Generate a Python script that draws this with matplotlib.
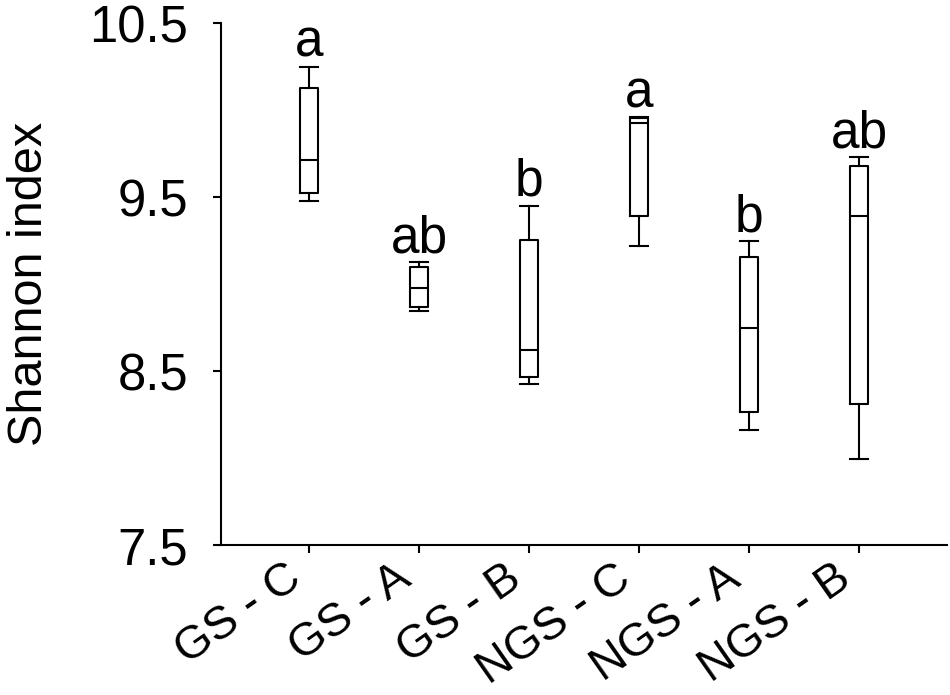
import matplotlib
matplotlib.use("Agg")
import matplotlib.pyplot as plt
from matplotlib.transforms import ScaledTranslation

plt.rcParams['font.family'] = ['Liberation Sans', 'DejaVu Sans']

# values
groups = ['GS - C', 'GS - A', 'GS - B', 'NGS - C', 'NGS - A', 'NGS - B']
whis_hi = [10.25, 9.125, 9.45, 9.96, 9.247, 9.728]
q3 = [10.128, 9.10, 9.253, 9.955, 9.157, 9.680]
medians = [9.711, 8.975, 8.621, 9.923, 8.749, 9.391]
q1 = [9.525, 8.866, 8.464, 9.393, 8.266, 8.310]
whis_lo = [9.479, 8.847, 8.424, 9.220, 8.161, 7.993]
letters = ['a', 'ab', 'b', 'a', 'b', 'ab']

stats = [dict(label=g, med=m, q1=a, q3=b, whislo=lo, whishi=hi, fliers=[])
         for g, m, a, b, lo, hi in zip(groups, medians, q1, q3,
                                       whis_lo, whis_hi)]

fig = plt.figure(figsize=(9.5, 6.95), dpi=100)
ax = fig.add_axes([0.2326, 0.2158, 0.7642, 0.7511])

lw = 1.5
line = dict(color='black', linewidth=lw)
positions = list(range(1, len(groups) + 1))
ax.bxp(stats, positions=positions, widths=0.164, capwidths=0.164,
       showfliers=False, boxprops=line, whiskerprops=line,
       capprops=line, medianprops=line)

for x, top, lab in zip(positions, whis_hi, letters):
    ax.annotate(lab, (x, top), xytext=(0, 7), textcoords='offset points',
                ha='center', va='baseline', fontsize=37)

ax.set_xlim(0.2, 6.8)
ax.set_ylim(7.5, 10.5)
ax.set_yticks([7.5, 8.5, 9.5, 10.5])
ax.set_yticklabels(['7.5', '8.5', '9.5', '10.5'])
ax.set_xticks(positions)
ax.set_xticklabels(groups, rotation=35, ha='right', va='top',
                   rotation_mode='default')
shift = ScaledTranslation(0.07, 0, fig.dpi_scale_trans)
for t in ax.get_xticklabels():
    t.set_transform(t.get_transform() + shift)
ax.set_ylabel('Shannon index', fontsize=35, labelpad=27)

for s in ['top', 'right']:
    ax.spines[s].set_visible(False)
for s in ['left', 'bottom']:
    ax.spines[s].set_linewidth(lw)
ax.tick_params(axis='y', length=8 * 0.72, width=lw, labelsize=36.5, pad=18)
ax.tick_params(axis='x', length=8 * 0.72, width=lw, labelsize=33.5, pad=2)

fig.savefig('out.png', dpi=100)
